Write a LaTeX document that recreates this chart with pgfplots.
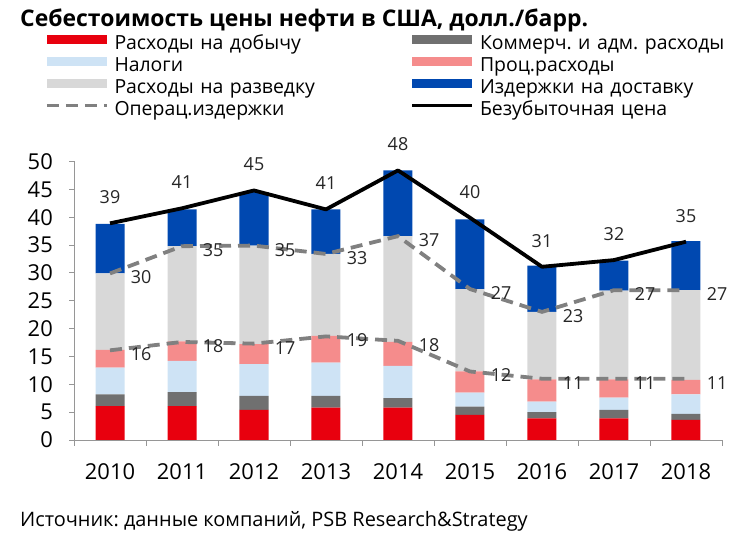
\documentclass[border=0pt]{standalone}
\usepackage{fontspec}
\setmainfont{Open Sans}
\usepackage{pgfplots}
\usepackage{pgfplotstable}
\pgfplotsset{compat=1.18}
\frenchspacing
\definecolor{cRed}{RGB}{232,0,14}
\definecolor{cDGray}{RGB}{112,112,112}
\definecolor{cLBlue}{RGB}{206,227,245}
\definecolor{cPink}{RGB}{245,140,140}
\definecolor{cLGray}{RGB}{216,216,216}
\definecolor{cBlue}{RGB}{0,72,176}
\definecolor{cDash}{RGB}{128,128,128}
\definecolor{cAxis}{RGB}{150,150,150}

\pgfplotsset{
  barlegend/.style={legend image code/.code={\path[##1,draw=none] (0bp,1bp) rectangle (60bp,10bp);}},
  linelegend/.style={legend image code/.code={\draw[##1] (0bp,5.5bp) -- (60bp,5.5bp);}},
}

\pgfplotstableread{
x red dgray lblue pink lgray blue
0 6.1 2.1 4.8 3.2 13.7 8.9
1 6.1 2.5 5.6 3.5 17.1 6.6
2 5.4 2.5 5.7 3.6 17.7 9.6
3 5.8 2.1 6.0 4.8 14.7 8.0
4 5.8 1.7 5.8 4.3 19.0 11.8
5 4.5 1.5 2.5 3.8 14.8 12.5
6 3.9 1.1 1.9 4.0 12.1 8.3
7 3.9 1.5 2.2 3.3 15.9 5.4
8 3.6 1.1 3.5 2.6 16.1 8.8
}\bars

\pgfplotstableread{
x be bel op opl tot totl
0 38.9 39 16.1 16 29.9 30
1 41.6 41 17.6 18 34.8 35
2 44.8 45 17.3 17 34.9 35
3 41.4 41 18.6 19 33.4 33
4 48.4 48 17.8 18 36.6 37
5 39.9 40 12.3 12 27.1 27
6 31.1 31 11.0 11 23.0 23
7 32.3 32 11.0 11 26.9 27
8 35.6 35 11.0 11 26.9 27
}\lines

\begin{document}
\begin{tikzpicture}
\useasboundingbox (0,0) rectangle (742bp,535bp);
\begin{axis}[
  at={(74bp,95bp)}, anchor=south west,
  scale only axis, width=648bp, height=278.5bp,
  xmin=-0.5, xmax=8.5, ymin=0, ymax=50,
  clip=false,
  ybar stacked, bar width=29bp,
  axis x line*=bottom, axis y line*=left,
  axis line style={draw=cAxis, line width=0.9bp},
  tick align=outside,
  xtick={0,...,8},
  xticklabels={2010,2011,2012,2013,2014,2015,2016,2017,2018},
  minor xtick={-0.5,0.5,...,8.5},
  major x tick style={draw=none},
  minor x tick style={draw=cAxis, line width=0.9bp},
  minor tick length=6bp,
  ytick={0,5,...,50},
  y tick style={draw=cAxis, line width=0.9bp},
  major tick length=5bp,
  /pgf/number format/assume math mode=true,
  xticklabel style={font=\fontsize{22}{26}\selectfont, inner sep=0pt, anchor=north, yshift=-18bp},
  yticklabel style={font=\fontsize{22}{26}\selectfont, inner sep=0pt, anchor=east, xshift=-16bp},
  legend columns=2,
  legend cell align=left,
  legend style={
    at={(-0.04475,1.4535)}, anchor=north west,
    draw=none, fill=none, inner sep=0pt, outer sep=0pt,
    font=\fontsize{19.5}{23}\selectfont,
    nodes={inner sep=0pt, text height=14bp, text depth=5bp, text width=296bp, align=left},
    row sep=2.6bp,
    /tikz/every odd column/.append style={column sep=6bp},
  },
]
\addplot[fill=cRed, draw=none, barlegend] table[x=x, y=red]{\bars};
\addlegendentry{Расходы на добычу}
\addplot[fill=cDGray, draw=none, barlegend] table[x=x, y=dgray]{\bars};
\addlegendentry{Коммерч. и адм. расходы}
\addplot[fill=cLBlue, draw=none, barlegend] table[x=x, y=lblue]{\bars};
\addlegendentry{Налоги}
\addplot[fill=cPink, draw=none, barlegend] table[x=x, y=pink]{\bars};
\addlegendentry{Проц.расходы}
\addplot[fill=cLGray, draw=none, barlegend] table[x=x, y=lgray]{\bars};
\addlegendentry{Расходы на разведку}
\addplot[fill=cBlue, draw=none, barlegend] table[x=x, y=blue]{\bars};
\addlegendentry{Издержки на доставку}
\addlegendimage{linelegend, cDash, line width=3.5bp, dash pattern=on 12bp off 7bp}
\addlegendentry{Операц.издержки}
\addlegendimage{linelegend, black, line width=3.5bp}
\addlegendentry{Безубыточная цена}
\end{axis}

\begin{axis}[
  at={(74bp,95bp)}, anchor=south west,
  scale only axis, width=648bp, height=278.5bp,
  xmin=-0.5, xmax=8.5, ymin=0, ymax=50,
  clip=false, hide axis,
]
\addplot[cDash, line width=3.8bp, dash pattern=on 12bp off 7bp, mark=none,
  nodes near coords, point meta=explicit symbolic,
  every node near coord/.style={anchor=west, inner sep=0pt, xshift=19bp, yshift=-4bp,
    font=\fontsize{18}{20}\selectfont, text=black!85}]
  table[x=x, y=op, meta=opl]{\lines};
\addplot[cDash, line width=3.8bp, dash pattern=on 12bp off 7bp, mark=none,
  nodes near coords, point meta=explicit symbolic,
  every node near coord/.style={anchor=west, inner sep=0pt, xshift=19bp, yshift=-4bp,
    font=\fontsize{18}{20}\selectfont, text=black!85}]
  table[x=x, y=tot, meta=totl]{\lines};
\addplot[black, line width=3.8bp, mark=none, line join=round,
  nodes near coords, point meta=explicit symbolic,
  every node near coord/.style={anchor=center, inner sep=0pt, yshift=26bp,
    font=\fontsize{18}{20}\selectfont, text=black!85}]
  table[x=x, y=be, meta=bel]{\lines};
\end{axis}

\node[anchor=base west, font=\bfseries\fontsize{23}{27}\selectfont, inner sep=0pt] at (20bp,508bp) {Себестоимость цены нефти в США, долл./барр.};
\node[anchor=base west, font=\fontsize{20}{23}\selectfont, inner sep=0pt] at (20bp,9bp) {Источник: данные компаний, PSB Research\&Strategy};
\end{tikzpicture}
\end{document}
